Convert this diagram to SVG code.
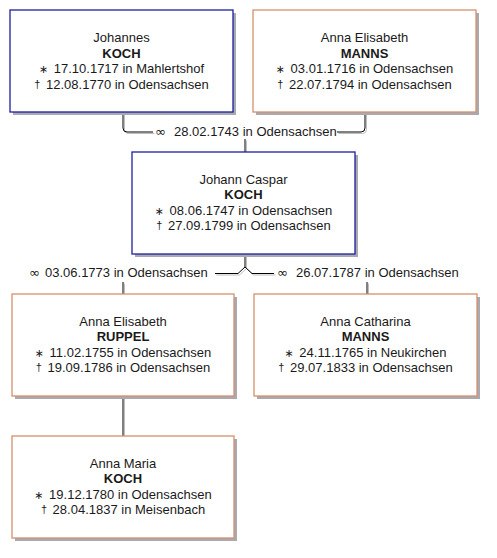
<svg xmlns="http://www.w3.org/2000/svg" width="497" height="558" viewBox="0 0 497 558">
<style>
.bg{fill:#ffffff}
.sh{fill:#a9a9b1}
.m{fill:#ffffff;stroke:#1e1e9e;stroke-width:1.3}
.f{fill:#ffffff;stroke:#d8906c;stroke-width:1.3}
text{font-family:"Liberation Sans",Arial,sans-serif;font-size:13px;fill:#1a1a1a;text-anchor:middle}
.b{font-weight:bold}
.sym{font-family:"DejaVu Sans",sans-serif;font-size:11px}
.ring{font-family:"DejaVu Sans",sans-serif;font-size:13px}
.ln{fill:none;stroke:#000000;stroke-width:1}
.lns{fill:none;stroke:#bdbdbd;stroke-width:1}
.lt{text-anchor:start}
</style>
<rect class="bg" x="0" y="0" width="497" height="558"/>

<g id="connectors">
  <g transform="translate(1.5,1.5)">
    <path class="lns" d="M123,112 V128 Q123,132 127,132 H153"/>
    <path class="lns" d="M337,132 H361 Q365,132 365,128 V112"/>
    <path class="lns" d="M245,139 V152"/>
    <path class="lns" d="M245,254 V267 L238,273.5 H215"/>
    <path class="lns" d="M245,267 L252,273.5 H274"/>
    <path class="lns" d="M123,282 V294"/>
    <path class="lns" d="M367,282 V294"/>
    <path class="lns" d="M123,396 V436"/>
  </g>
  <path class="ln" d="M123,112 V128 Q123,132 127,132 H153"/>
  <path class="ln" d="M337,132 H361 Q365,132 365,128 V112"/>
  <path class="ln" d="M245,139 V152"/>
  <path class="ln" d="M245,254 V267 L238,273.5 H215"/>
  <path class="ln" d="M245,267 L252,273.5 H274"/>
  <path class="ln" d="M123,282 V294"/>
  <path class="ln" d="M367,282 V294"/>
  <path class="ln" d="M123,396 V436"/>
  <text class="ring lt" x="155" y="136">∞</text>
  <text class="lt" x="174" y="136">28.02.1743 in Odensachsen</text>
  <text class="ring lt" x="29" y="277">∞</text>
  <text class="lt" x="45" y="277">03.06.1773 in Odensachsen</text>
  <text class="ring lt" x="277" y="277">∞</text>
  <text class="lt" x="296" y="277">26.07.1787 in Odensachsen</text>
</g>

<g id="p1">
  <rect class="sh" x="13" y="13" width="223" height="102"/>
  <rect class="m" x="10" y="10" width="223" height="102"/>
  <text x="121.5" y="42">Johannes</text>
  <text class="b" x="121.5" y="57.5">KOCH</text>
  <text x="121.5" y="73"><tspan class="sym">∗</tspan><tspan dx="2"> 17.10.1717 in Mahlertshof</tspan></text>
  <text x="121.5" y="88.5"><tspan font-size="11" dy="-1">†</tspan><tspan dy="1" dx="2"> 12.08.1770 in Odensachsen</tspan></text>
</g>

<g id="p2">
  <rect class="sh" x="256" y="13" width="223" height="102"/>
  <rect class="f" x="253" y="10" width="223" height="102"/>
  <text x="364.5" y="42">Anna Elisabeth</text>
  <text class="b" x="364.5" y="57.5">MANNS</text>
  <text x="364.5" y="73"><tspan class="sym">∗</tspan><tspan dx="2"> 03.01.1716 in Odensachsen</tspan></text>
  <text x="364.5" y="88.5"><tspan font-size="11" dy="-1">†</tspan><tspan dy="1" dx="2"> 22.07.1794 in Odensachsen</tspan></text>
</g>

<g id="p3">
  <rect class="sh" x="135" y="155" width="223" height="102"/>
  <rect class="m" x="132" y="152" width="223" height="102"/>
  <text x="243.5" y="183.5">Johann Caspar</text>
  <text class="b" x="243.5" y="199">KOCH</text>
  <text x="243.5" y="214.5"><tspan class="sym">∗</tspan><tspan dx="2"> 08.06.1747 in Odensachsen</tspan></text>
  <text x="243.5" y="230"><tspan font-size="11" dy="-1">†</tspan><tspan dy="1" dx="2"> 27.09.1799 in Odensachsen</tspan></text>
</g>

<g id="p4">
  <rect class="sh" x="15" y="297" width="222" height="102"/>
  <rect class="f" x="12" y="294" width="222" height="102"/>
  <text x="123" y="325.5">Anna Elisabeth</text>
  <text class="b" x="123" y="341">RUPPEL</text>
  <text x="123" y="356.5"><tspan class="sym">∗</tspan><tspan dx="2"> 11.02.1755 in Odensachsen</tspan></text>
  <text x="123" y="372"><tspan font-size="11" dy="-1">†</tspan><tspan dy="1" dx="2"> 19.09.1786 in Odensachsen</tspan></text>
</g>

<g id="p5">
  <rect class="sh" x="257" y="297" width="223" height="102"/>
  <rect class="f" x="254" y="294" width="223" height="102"/>
  <text x="365.5" y="325.5">Anna Catharina</text>
  <text class="b" x="365.5" y="341">MANNS</text>
  <text x="365.5" y="356.5"><tspan class="sym">∗</tspan><tspan dx="2"> 24.11.1765 in Neukirchen</tspan></text>
  <text x="365.5" y="372"><tspan font-size="11" dy="-1">†</tspan><tspan dy="1" dx="2"> 29.07.1833 in Odensachsen</tspan></text>
</g>

<g id="p6">
  <rect class="sh" x="15" y="439" width="222" height="102"/>
  <rect class="f" x="12" y="436" width="222" height="102"/>
  <text x="123" y="467.5">Anna Maria</text>
  <text class="b" x="123" y="483">KOCH</text>
  <text x="123" y="498.5"><tspan class="sym">∗</tspan><tspan dx="2"> 19.12.1780 in Odensachsen</tspan></text>
  <text x="123" y="514"><tspan font-size="11" dy="-1">†</tspan><tspan dy="1" dx="2"> 28.04.1837 in Meisenbach</tspan></text>
</g>
</svg>
